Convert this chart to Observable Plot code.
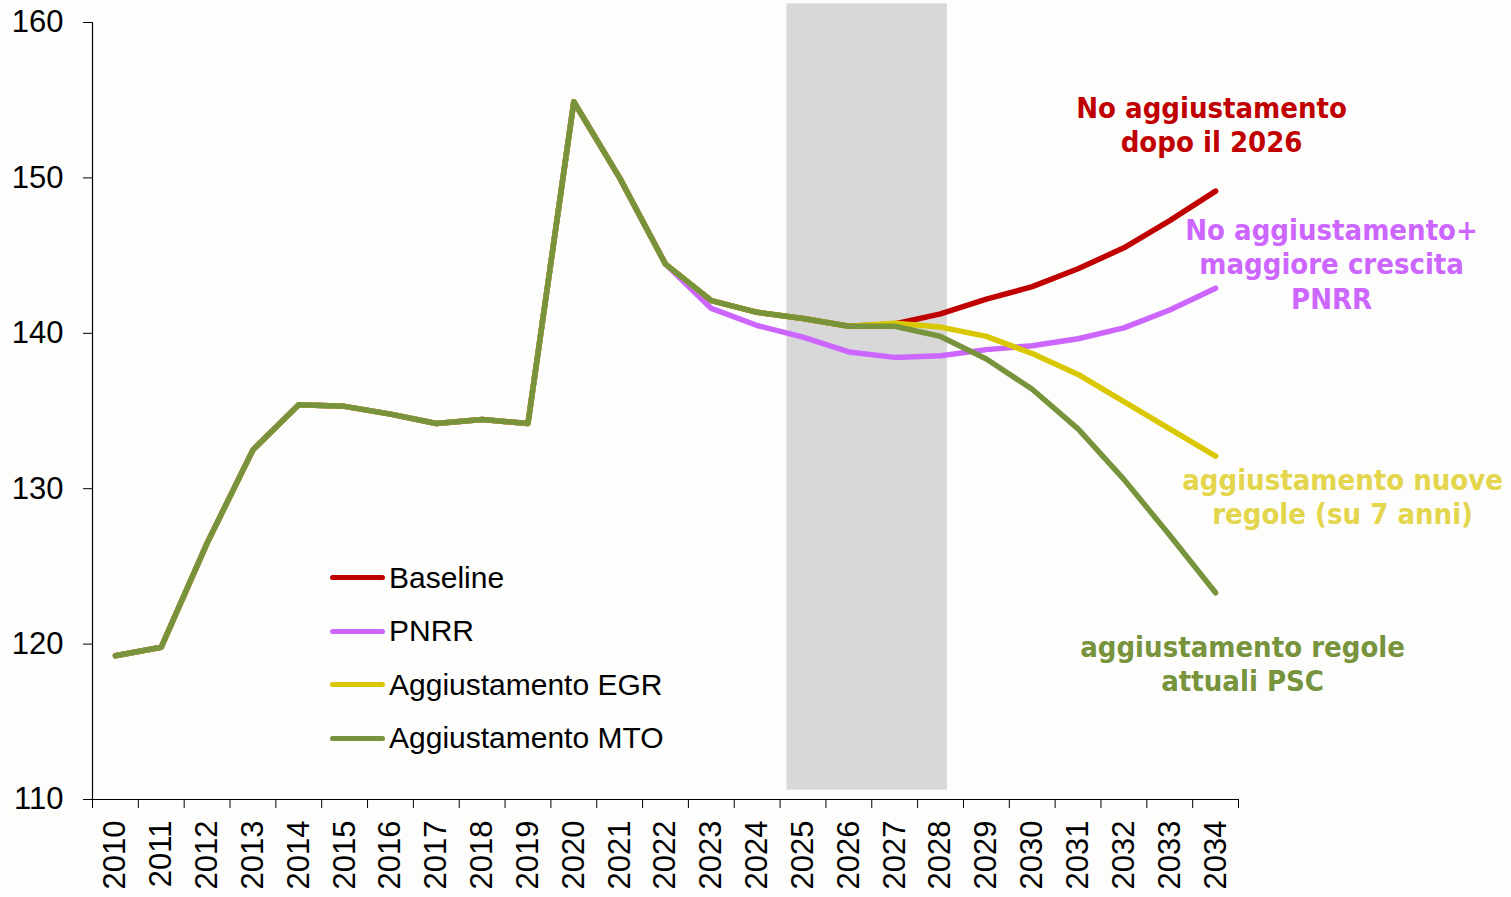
<!DOCTYPE html>
<html>
<head>
<meta charset="utf-8">
<script src="https://cdn.jsdelivr.net/npm/d3@7"></script>
<script src="https://cdn.jsdelivr.net/npm/@observablehq/plot@0.6"></script>
<style>
  html, body { margin: 0; padding: 0; background: #fdfdfb; }
  #wrap { position: relative; width: 1511px; height: 897px; }
  #legend { position: absolute; left: 330px; top: 551px; font-family: "Liberation Sans", Arial, sans-serif; font-size: 30px; color: #000; }
  .item { display: flex; align-items: center; height: 53.5px; }
  .sw { width: 55px; height: 5px; border-radius: 3px; margin-right: 4px; }
</style>
</head>
<body>
<div id="wrap"></div>
<script>
// ---- data ----
const years = [2010,2011,2012,2013,2014,2015,2016,2017,2018,2019,2020,2021,2022,2023,2024,2025,2026,2027,2028,2029,2030,2031,2032,2033,2034];
const baseline = [119.25,119.8,126.5,132.5,135.4,135.3,134.8,134.2,134.45,134.2,154.9,150.0,144.45,142.1,141.35,140.95,140.45,140.6,141.25,142.2,143.0,144.15,145.5,147.25,149.15];
const pnrr     = [119.25,119.8,126.5,132.5,135.4,135.3,134.8,134.2,134.45,134.2,154.9,150.0,144.45,141.6,140.5,139.75,138.8,138.45,138.55,138.95,139.2,139.65,140.35,141.5,142.9];
const egr      = [119.25,119.8,126.5,132.5,135.4,135.3,134.8,134.2,134.45,134.2,154.9,150.0,144.45,142.1,141.35,140.95,140.45,140.65,140.4,139.8,138.7,137.35,135.6,133.85,132.1];
const mto      = [119.25,119.8,126.5,132.5,135.4,135.3,134.8,134.2,134.45,134.2,154.9,150.0,144.45,142.1,141.35,140.95,140.45,140.45,139.8,138.35,136.4,133.85,130.6,127.0,123.3];
const seriesNames = ["Baseline","PNRR","Aggiustamento EGR","Aggiustamento MTO"];
const seriesColors = ["#c00000","#cc66ff","#d9c800","#77933c"];
const labelColors = ["#c00000","#cc66ff","#e3d54c","#77933c"];
const annotations = ["No aggiustamento\ndopo il 2026","No aggiustamento+\nmaggiore crescita\nPNRR","aggiustamento nuove\nregole (su 7 anni)","aggiustamento regole\nattuali PSC"];
const yTicks = [110,120,130,140,150,160];
const band = [{x1: 2024.65, x2: 2028.15, y1: 110.6, y2: 161.2}];

// ---- build table ----
const allValues = [baseline, pnrr, egr, mto];
const rows = [];
seriesNames.forEach((s, i) => years.forEach((yr, j) => rows.push({series: s, year: yr, value: allValues[i][j]})));
const ends = seriesNames.map((s, i) => ({series: s, year: years[years.length-1], value: allValues[i][years.length-1], text: annotations[i], color: labelColors[i]}));
const bounds = d3.range(years[0] - 0.5, years[years.length-1] + 1, 1);

const annOffsets = [[-4,-67],[116,-25],[127,40],[27,70]];

const plot = Plot.plot({
  width: 1511,
  height: 897,
  marginLeft: 92,
  marginRight: 273,
  marginTop: 22,
  marginBottom: 98,
  style: {background: "transparent", overflow: "visible"},
  x: {type: "linear", domain: [years[0]-0.5, years[years.length-1]+0.5]},
  y: {domain: [110, 160]},
  color: {domain: seriesNames, range: seriesColors},
  marks: [
    Plot.rect(band, {x1: "x1", x2: "x2", y1: "y1", y2: "y2", fill: "#d8d8d8", clip: false}),
    Plot.ruleX([years[0]-0.5], {stroke: "#000", strokeWidth: 1.2}),
    Plot.ruleY([110], {stroke: "#000", strokeWidth: 1.2}),
    Plot.axisY(yTicks, {tickSize: 9, tickPadding: 20, fontSize: 31, fontFamily: "Liberation Sans, Arial, sans-serif", fill: "#000", stroke: "#000", label: null}),
    Plot.axisX(years, {tickSize: 0, tickPadding: 21, tickRotate: -90, fontSize: 31, fontFamily: "Liberation Sans, Arial, sans-serif", fill: "#000", label: null, tickFormat: d => String(d)}),
    Plot.axisX(bounds, {tickSize: 9, tickFormat: () => "", stroke: "#000", label: null}),
    Plot.line(rows, {x: "year", y: "value", z: "series", stroke: "series", strokeWidth: 5.5, strokeLinecap: "round", strokeLinejoin: "round"}),
    ...ends.map((e, i) => Plot.text([e], {
      x: "year", y: "value", text: "text", fill: e.color,
      dx: annOffsets[i][0], dy: annOffsets[i][1],
      textAnchor: "middle", lineAnchor: "middle", lineHeight: 1.19,
      fontSize: 29, fontWeight: "bold", fontFamily: "DejaVu Sans Condensed, DejaVu Sans, sans-serif", clip: false
    }))
  ]
});

const wrap = document.getElementById("wrap");
wrap.appendChild(plot);

const legend = document.createElement("div");
legend.id = "legend";
seriesNames.forEach((s, i) => {
  const it = document.createElement("div");
  it.className = "item";
  const sw = document.createElement("div");
  sw.className = "sw";
  sw.style.background = seriesColors[i];
  const t = document.createElement("span");
  t.textContent = s;
  it.appendChild(sw); it.appendChild(t);
  legend.appendChild(it);
});
wrap.appendChild(legend);
</script>
</body>
</html>
